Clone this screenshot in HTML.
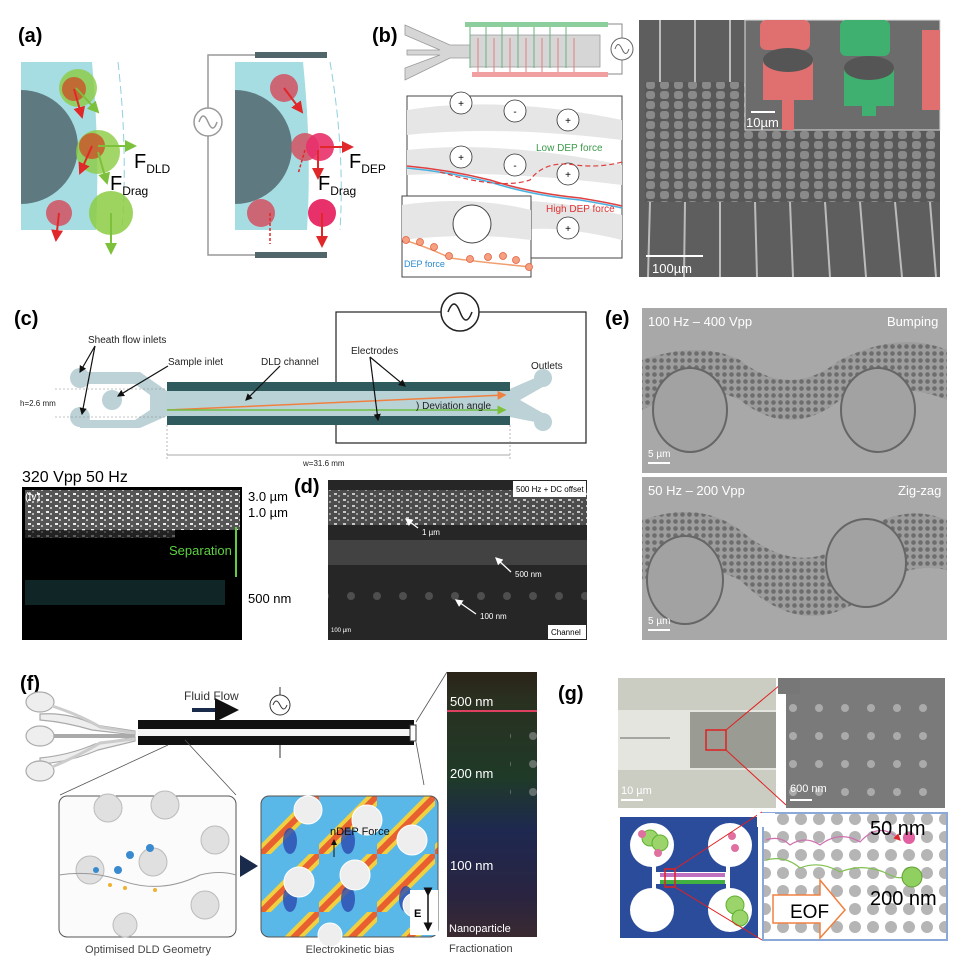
<!DOCTYPE html>
<html><head><meta charset="utf-8"><style>
html,body{margin:0;padding:0;background:#fff}
svg{display:block}
text{font-family:"Liberation Sans",sans-serif}
</style></head><body>
<svg width="955" height="964" viewBox="0 0 955 964" xmlns="http://www.w3.org/2000/svg">
<defs>
<marker id="ar" markerWidth="6" markerHeight="6" refX="5" refY="3" orient="auto"><path d="M0,0L6,3L0,6z" fill="#e0282a"/></marker>
<marker id="ag" markerWidth="6" markerHeight="6" refX="5" refY="3" orient="auto"><path d="M0,0L6,3L0,6z" fill="#7cc03c"/></marker>
<marker id="ak" markerWidth="6" markerHeight="6" refX="5" refY="3" orient="auto"><path d="M0,0L6,3L0,6z" fill="#111"/></marker>
<marker id="aw" markerWidth="6" markerHeight="6" refX="5" refY="3" orient="auto"><path d="M0,0L6,3L0,6z" fill="#fff"/></marker>
<marker id="ao" markerWidth="6" markerHeight="6" refX="5" refY="3" orient="auto"><path d="M0,0L6,3L0,6z" fill="#f08040"/></marker>
<linearGradient id="strip" x1="0" y1="0" x2="0" y2="1">
<stop offset="0" stop-color="#2a2218"/><stop offset=".1" stop-color="#2a3020"/><stop offset=".4" stop-color="#1f3a28"/><stop offset=".6" stop-color="#1e2850"/><stop offset=".85" stop-color="#2a2440"/><stop offset="1" stop-color="#3a2a30"/></linearGradient>
<pattern id="heatp" width="58" height="58" patternUnits="userSpaceOnUse" x="261" y="796">
<rect width="58" height="58" fill="#5ab8e8"/>
<path d="M0,58 L58,0" stroke="#f0d040" stroke-width="14"/>
<path d="M0,58 L58,0" stroke="#e86030" stroke-width="6"/>
<ellipse cx="29" cy="45" rx="7" ry="13" fill="#2a48b0" opacity=".8"/>
</pattern>
<pattern id="pill" width="14" height="10" patternUnits="userSpaceOnUse"><rect width="14" height="10" fill="#585858"/><rect x="2" y="1" width="9" height="8" rx="3" fill="#8a8a8a"/></pattern>
<pattern id="dots" width="18" height="18" patternUnits="userSpaceOnUse"><circle cx="9" cy="9" r="6" fill="#b5b5b5"/></pattern>
<pattern id="gdots" width="26" height="28" patternUnits="userSpaceOnUse"><circle cx="13" cy="8" r="4" fill="#aaa"/></pattern>
<pattern id="cells" width="7" height="7" patternUnits="userSpaceOnUse"><rect width="7" height="7" fill="#9a9a9a"/><circle cx="3.5" cy="3.5" r="2.3" fill="#5e5e5e"/></pattern>
<pattern id="spk" width="9" height="6" patternUnits="userSpaceOnUse"><rect width="9" height="6" fill="#555"/><rect x="1" y="1" width="3" height="2" fill="#eee"/><rect x="5" y="3" width="2" height="2" fill="#bbb"/></pattern>
</defs>

<!-- (a) -->
<text x="18" y="42" font-size="20" font-weight="bold">(a)</text>
<path d="M21,62 H92 Q100,150 96,230 H21 Z" fill="#a6dde2"/>
<path d="M21,90 A57,57 0 0 1 21,204 Z" fill="#5e7a80"/>
<path d="M118,62 Q128,150 122,230" fill="none" stroke="#8fd0e0" stroke-dasharray="8,4"/>
<circle cx="78" cy="88" r="19" fill="#8ccc44" opacity=".8"/>
<circle cx="74" cy="89" r="12" fill="#c8582c" opacity=".85"/>
<circle cx="98" cy="152" r="22" fill="#8ccc44" opacity=".8"/>
<circle cx="92" cy="146" r="13" fill="#c8582c" opacity=".85"/>
<circle cx="111" cy="213" r="22" fill="#8ccc44" opacity=".85"/>
<circle cx="59" cy="213" r="13" fill="#d05868" opacity=".9"/>
<g stroke="#e0282a" stroke-width="2" marker-end="url(#ar)"><line x1="74" y1="89" x2="82" y2="117"/><line x1="92" y1="146" x2="80" y2="173"/><line x1="59" y1="213" x2="56" y2="240"/></g>
<g stroke="#7cc03c" stroke-width="2" marker-end="url(#ag)"><line x1="76" y1="88" x2="98" y2="112"/><line x1="98" y1="146" x2="135" y2="146"/><line x1="98" y1="152" x2="107" y2="183"/><line x1="111" y1="213" x2="111" y2="253"/></g>
<text x="134" y="168" font-size="20">F<tspan font-size="12" dy="5">DLD</tspan></text>
<text x="110" y="190" font-size="20">F<tspan font-size="12" dy="5">Drag</tspan></text>

<path d="M255,55 H208 V255 H255" fill="none" stroke="#999" stroke-width="1.5"/>
<circle cx="208" cy="122" r="14" fill="#fff" stroke="#999" stroke-width="1.5"/>
<path d="M199,122 Q203,110 208,122 T217,122" fill="none" stroke="#999" stroke-width="1.5"/>
<rect x="255" y="52" width="72" height="6" fill="#51666b"/>
<rect x="255" y="252" width="72" height="6" fill="#51666b"/>
<path d="M235,62 H303 Q312,150 307,230 H235 Z" fill="#a6dde2"/>
<path d="M235,90 A57,57 0 0 1 235,204 Z" fill="#5e7a80"/>
<path d="M330,62 Q345,150 340,230" fill="none" stroke="#8fd0e0" stroke-dasharray="8,4"/>
<circle cx="284" cy="88" r="14" fill="#d05868" opacity=".9"/>
<circle cx="305" cy="147" r="14" fill="#d05868" opacity=".9"/>
<circle cx="320" cy="147" r="14" fill="#e8306a" opacity=".9"/>
<circle cx="261" cy="213" r="14" fill="#d05868" opacity=".9"/>
<circle cx="322" cy="213" r="14" fill="#e8306a"/>
<g stroke="#e0282a" stroke-width="2" marker-end="url(#ar)"><line x1="284" y1="88" x2="302" y2="112"/><line x1="320" y1="147" x2="352" y2="147"/><line x1="318" y1="150" x2="318" y2="178"/><line x1="322" y1="213" x2="322" y2="246"/></g>
<g stroke="#e0282a" stroke-width="1.5" stroke-dasharray="3,2"><line x1="305" y1="150" x2="298" y2="174"/><line x1="270" y1="213" x2="270" y2="244"/></g>
<text x="349" y="168" font-size="20">F<tspan font-size="12" dy="5">DEP</tspan></text>
<text x="318" y="190" font-size="20">F<tspan font-size="12" dy="5">Drag</tspan></text>

<!-- (b) -->
<text x="372" y="42" font-size="20" font-weight="bold">(b)</text>
<path d="M405,25 L450,45 H470 V35 H600 V67 H470 V58 H450 L405,80 V68 L440,55 H407 V50 H440 L405,35 Z" fill="#d6d6d6" stroke="#999" stroke-width=".8"/>
<rect x="465" y="22" width="143" height="5" fill="#8ccf9c"/>
<rect x="472" y="72" width="136" height="5" fill="#f0a0a0"/>
<g stroke="#6ab37c" stroke-width="1"><line x1="470" y1="27" x2="470" y2="68"/><line x1="486" y1="27" x2="486" y2="68"/><line x1="502" y1="27" x2="502" y2="68"/><line x1="518" y1="27" x2="518" y2="68"/><line x1="534" y1="27" x2="534" y2="68"/><line x1="550" y1="27" x2="550" y2="68"/><line x1="566" y1="27" x2="566" y2="68"/></g>
<g stroke="#e08080" stroke-width="1"><line x1="478" y1="38" x2="478" y2="72"/><line x1="494" y1="38" x2="494" y2="72"/><line x1="510" y1="38" x2="510" y2="72"/><line x1="526" y1="38" x2="526" y2="72"/><line x1="542" y1="38" x2="542" y2="72"/><line x1="558" y1="38" x2="558" y2="72"/><line x1="574" y1="38" x2="574" y2="72"/></g>
<path d="M608,24 H622 V74 H608" fill="none" stroke="#888"/>
<circle cx="622" cy="49" r="11" fill="#fff" stroke="#666"/>
<path d="M615,49 Q618,40 622,49 T629,49" fill="none" stroke="#666"/>
<rect x="407" y="96" width="215" height="162" fill="#fff" stroke="#444"/>
<g fill="#e6e6e6"><path d="M407,110 Q500,95 622,120 V140 Q500,125 407,135Z"/><path d="M407,150 Q500,140 622,165 V185 Q500,170 407,175Z"/><path d="M500,200 Q560,200 622,215 V240 Q560,225 520,230Z"/></g>
<g fill="#fff" stroke="#333" stroke-width=".8"><circle cx="461" cy="103" r="11"/><circle cx="515" cy="111" r="11"/><circle cx="568" cy="120" r="11"/><circle cx="461" cy="157" r="11"/><circle cx="515" cy="165" r="11"/><circle cx="568" cy="174" r="11"/><circle cx="568" cy="228" r="11"/></g>
<g font-size="10" text-anchor="middle"><text x="461" y="107">+</text><text x="515" y="115">-</text><text x="568" y="124">+</text><text x="461" y="161">+</text><text x="515" y="169">-</text><text x="568" y="178">+</text><text x="568" y="232">+</text></g>
<text x="536" y="151" font-size="10" fill="#3a9a4a">Low DEP force</text>
<text x="546" y="212" font-size="10" fill="#e03030">High DEP force</text>
<path d="M407,168 Q450,172 490,182 Q530,195 580,200 Q610,205 622,208" fill="none" stroke="#4ab0e0" stroke-width="1.5"/>
<path d="M407,166 Q450,170 490,180 Q530,193 580,198 Q610,203 622,206" fill="none" stroke="#e04040" stroke-width="1.5"/>
<path d="M440,172 Q500,190 530,180 Q545,160 575,165 Q600,168 622,162" fill="none" stroke="#e04040" stroke-width="1.2" stroke-dasharray="5,3"/>
<rect x="402" y="196" width="129" height="81" fill="#fff" stroke="#444"/>
<path d="M402,205 Q470,195 531,210 V240 Q470,232 402,240Z" fill="#e6e6e6"/>
<circle cx="472" cy="224" r="19" fill="#fff" stroke="#444"/>
<path d="M404,240 Q430,248 450,258 Q480,262 531,267" fill="none" stroke="#f0a070" stroke-width="1.5"/>
<g fill="#f5a080" stroke="#e06040" stroke-width=".8"><circle cx="406" cy="240" r="3.5"/><circle cx="420" cy="242" r="3.5"/><circle cx="434" cy="247" r="3.5"/><circle cx="449" cy="256" r="3.5"/><circle cx="470" cy="259" r="3.5"/><circle cx="488" cy="257" r="3.5"/><circle cx="503" cy="256" r="3.5"/><circle cx="516" cy="260" r="3.5"/><circle cx="529" cy="267" r="3.5"/></g>
<text x="404" y="267" font-size="9" fill="#2a8ad0">DEP force</text>

<rect x="639" y="20" width="301" height="257" fill="#5e5e5e"/>
<rect x="645" y="82" width="295" height="120" fill="url(#pill)"/>
<g stroke="#bbb" stroke-width="2"><line x1="660" y1="20" x2="660" y2="82"/><line x1="695" y1="20" x2="695" y2="82"/><line x1="730" y1="20" x2="730" y2="82"/><line x1="650" y1="202" x2="648" y2="277"/><line x1="685" y1="202" x2="684" y2="277"/><line x1="720" y1="202" x2="720" y2="277"/><line x1="755" y1="202" x2="757" y2="277"/><line x1="790" y1="202" x2="793" y2="277"/><line x1="825" y1="202" x2="830" y2="277"/><line x1="860" y1="202" x2="866" y2="277"/><line x1="895" y1="202" x2="902" y2="277"/><line x1="930" y1="202" x2="936" y2="277"/></g>
<rect x="745" y="20" width="195" height="110" fill="#6c6c6c" stroke="#ddd"/>
<rect x="760" y="20" width="50" height="30" rx="6" fill="#e07070"/><rect x="840" y="20" width="50" height="36" rx="6" fill="#40b070"/>
<rect x="763" y="60" width="50" height="40" fill="#e07070"/><ellipse cx="788" cy="60" rx="25" ry="12" fill="#555"/><rect x="782" y="100" width="12" height="30" fill="#e07070"/>
<rect x="844" y="68" width="50" height="38" fill="#40b070"/><ellipse cx="869" cy="68" rx="25" ry="12" fill="#555"/><rect x="862" y="106" width="14" height="10" fill="#40b070"/>
<rect x="922" y="30" width="18" height="80" fill="#e07070"/>
<line x1="751" y1="112" x2="775" y2="112" stroke="#fff" stroke-width="2"/>
<text x="746" y="127" font-size="13" fill="#fff">10µm</text>
<line x1="646" y1="256" x2="703" y2="256" stroke="#fff" stroke-width="2"/>
<text x="652" y="273" font-size="13" fill="#fff">100µm</text>

<!-- (c) -->
<text x="14" y="325" font-size="20" font-weight="bold">(c)</text>
<rect x="336" y="312" width="250" height="131" fill="none" stroke="#222" stroke-width="1.2"/>
<circle cx="460" cy="312" r="19" fill="#fff" stroke="#222" stroke-width="1.5"/>
<path d="M448,312 Q454,296 460,312 T472,312" fill="none" stroke="#222" stroke-width="1.5"/>
<g fill="#bcd2d6"><circle cx="80" cy="378" r="10"/><circle cx="80" cy="417" r="10"/><circle cx="112" cy="400" r="10"/><path d="M80,372 H140 L167,391 V416 L140,428 H80 V420 H135 L150,410 V395 L135,384 H80Z"/><circle cx="543" cy="378" r="9"/><circle cx="543" cy="422" r="9"/><path d="M505,391 L535,378 L548,384 L520,400 L548,416 L535,422 L505,416Z"/></g>
<rect x="167" y="391" width="343" height="25" fill="#b9d2d6"/>
<rect x="167" y="382" width="343" height="9" fill="#2f5a5e"/>
<rect x="167" y="416" width="343" height="9" fill="#2f5a5e"/>
<line x1="167" y1="410" x2="505" y2="395" stroke="#f08040" stroke-width="1.5" marker-end="url(#ao)"/>
<line x1="167" y1="410" x2="505" y2="410" stroke="#6cc040" stroke-width="1.5" marker-end="url(#ag)"/>
<g stroke="#111" stroke-width="1.2" marker-end="url(#ak)"><line x1="95" y1="346" x2="80" y2="372"/><line x1="95" y1="346" x2="82" y2="414"/><line x1="168" y1="366" x2="118" y2="396"/><line x1="280" y1="366" x2="246" y2="400"/><line x1="370" y1="357" x2="405" y2="386"/><line x1="370" y1="357" x2="378" y2="420"/></g>
<g font-size="10" fill="#222"><text x="88" y="343">Sheath flow inlets</text><text x="168" y="365">Sample inlet</text><text x="261" y="365">DLD channel</text><text x="351" y="354">Electrodes</text><text x="531" y="369">Outlets</text><text x="416" y="409">) Deviation angle</text><text x="20" y="406" font-size="8">h=2.6 mm</text><text x="303" y="466" font-size="8">w=31.6 mm</text></g>
<g stroke="#888" stroke-width=".6" stroke-dasharray="2,2"><line x1="55" y1="389" x2="167" y2="389"/><line x1="55" y1="417" x2="167" y2="417"/><line x1="167" y1="425" x2="167" y2="460"/><line x1="510" y1="425" x2="510" y2="460"/></g>
<line x1="167" y1="455" x2="510" y2="455" stroke="#aaa"/>
<text x="22" y="482" font-size="16">320 Vpp 50 Hz</text>
<rect x="22" y="487" width="220" height="153" fill="#000"/>
<rect x="25" y="490" width="215" height="40" fill="url(#spk)"/>
<rect x="25" y="530" width="150" height="8" fill="url(#spk)" opacity=".4"/>
<rect x="25" y="580" width="200" height="25" fill="#1a4040" opacity=".6"/>
<text x="25" y="500" font-size="11" fill="#fff">(iv)</text>
<text x="248" y="501" font-size="13">3.0 µm</text>
<text x="248" y="517" font-size="13">1.0 µm</text>
<text x="248" y="603" font-size="13">500 nm</text>
<text x="169" y="555" font-size="13" fill="#5cd040">Separation</text>
<line x1="236" y1="527" x2="236" y2="577" stroke="#5cd040" stroke-width="2"/>

<!-- (d) -->
<text x="294" y="493" font-size="20" font-weight="bold">(d)</text>
<rect x="328" y="480" width="259" height="160" fill="#262626"/>
<rect x="328" y="490" width="259" height="35" fill="url(#spk)" opacity=".8"/>
<rect x="328" y="540" width="259" height="25" fill="#555" opacity=".6"/>
<rect x="328" y="585" width="259" height="30" fill="url(#gdots)" opacity=".3"/>
<rect x="513" y="481" width="73" height="16" fill="#fff"/>
<text x="516" y="492" font-size="8">500 Hz + DC offset</text>
<rect x="548" y="625" width="38" height="14" fill="#fff"/>
<text x="551" y="635" font-size="8">Channel</text>
<g stroke="#fff" stroke-width="1.3" marker-end="url(#aw)"><line x1="418" y1="528" x2="406" y2="519"/><line x1="511" y1="572" x2="496" y2="558"/><line x1="476" y1="614" x2="456" y2="600"/></g>
<g font-size="8" fill="#fff"><text x="422" y="535">1 µm</text><text x="515" y="577">500 nm</text><text x="480" y="619">100 nm</text><text x="331" y="632" font-size="6">100 µm</text></g>

<!-- (e) -->
<text x="605" y="325" font-size="20" font-weight="bold">(e)</text>
<rect x="642" y="308" width="305" height="165" fill="#a8a8a8"/>
<path d="M642,360 Q700,340 740,360 Q790,400 840,360 Q900,330 947,350 V400 Q900,380 840,400 Q790,440 740,400 Q700,380 642,410Z" fill="url(#cells)" opacity=".8"/>
<ellipse cx="690" cy="410" rx="37" ry="42" fill="#a2a2a2" stroke="#666" stroke-width="2"/>
<ellipse cx="878" cy="410" rx="37" ry="42" fill="#a2a2a2" stroke="#666" stroke-width="2"/>
<text x="648" y="326" font-size="13" fill="#fff">100 Hz – 400 Vpp</text>
<text x="887" y="326" font-size="13" fill="#fff">Bumping</text>
<text x="648" y="457" font-size="10" fill="#fff">5 µm</text>
<line x1="648" y1="463" x2="670" y2="463" stroke="#fff" stroke-width="2"/>
<rect x="642" y="477" width="305" height="163" fill="#a8a8a8"/>
<path d="M642,520 Q700,500 740,530 Q800,580 850,540 Q900,500 947,520 V570 Q900,560 860,600 Q800,640 740,580 Q700,560 642,580Z" fill="url(#cells)" opacity=".8"/>
<ellipse cx="685" cy="580" rx="38" ry="44" fill="#a2a2a2" stroke="#666" stroke-width="2"/>
<ellipse cx="866" cy="563" rx="40" ry="44" fill="#a2a2a2" stroke="#666" stroke-width="2"/>
<text x="648" y="495" font-size="13" fill="#fff">50 Hz – 200 Vpp</text>
<text x="898" y="495" font-size="13" fill="#fff">Zig-zag</text>
<text x="648" y="624" font-size="10" fill="#fff">5 µm</text>
<line x1="648" y1="630" x2="670" y2="630" stroke="#fff" stroke-width="2"/>

<!-- (f) -->
<text x="20" y="690" font-size="20" font-weight="bold">(f)</text>
<g fill="#eee" stroke="#aaa" stroke-width="1.2">
<path d="M40,714 Q70,712 95,725 L135,731 L135,735 L92,730 Q65,722 40,720Z"/>
<path d="M50,736 H135" stroke-width="4"/>
<path d="M40,758 Q70,755 95,744 L135,737 L135,741 L98,750 Q70,762 40,764Z"/>
<ellipse cx="40" cy="702" rx="14" ry="10"/><ellipse cx="40" cy="736" rx="14" ry="10"/><ellipse cx="40" cy="771" rx="14" ry="10"/>
<path d="M52,706 Q80,715 100,727 L135,733" fill="none" stroke="#ccc" stroke-width="3"/>
<path d="M52,767 Q80,755 100,743 L135,739" fill="none" stroke="#ccc" stroke-width="3"/>
</g>
<rect x="138" y="720" width="276" height="25" fill="#111"/>
<rect x="138" y="729" width="276" height="7" fill="#f4f4f4"/>
<rect x="410" y="725" width="6" height="16" fill="#fff" stroke="#333"/>
<text x="184" y="700" font-size="12" fill="#333">Fluid Flow</text>
<line x1="192" y1="710" x2="235" y2="710" stroke="#1a2a4a" stroke-width="4" marker-end="url(#ak)"/>
<circle cx="280" cy="705" r="10" fill="#fff" stroke="#333"/>
<path d="M273,705 Q276,697 280,705 T287,705" fill="none" stroke="#333"/>
<line x1="280" y1="687" x2="280" y2="695" stroke="#333"/><line x1="280" y1="745" x2="280" y2="758" stroke="#333"/>
<g stroke="#555" stroke-width=".8" fill="none"><path d="M168,745 L60,795 M185,740 L236,795"/><path d="M416,722 L447,672 M416,742 L424,785"/></g>
<rect x="447" y="672" width="90" height="265" fill="url(#strip)"/>
<line x1="447" y1="711" x2="537" y2="711" stroke="#e04060" stroke-width="2"/>
<rect x="510" y="720" width="27" height="90" fill="url(#gdots)" opacity=".5"/>
<g font-size="13" fill="#fff"><text x="450" y="706">500 nm</text><text x="450" y="778">200 nm</text><text x="450" y="870">100 nm</text><text x="449" y="932" font-size="11">Nanoparticle</text></g>
<text x="449" y="952" font-size="11" fill="#444">Fractionation</text>
<rect x="59" y="796" width="177" height="141" rx="8" fill="#fbfbfb" stroke="#555"/>
<g fill="#e0e0e0" stroke="#bbb"><circle cx="108" cy="808" r="14"/><circle cx="165" cy="805" r="14"/><circle cx="215" cy="840" r="14"/><circle cx="90" cy="870" r="14"/><circle cx="153" cy="862" r="14"/><circle cx="205" cy="905" r="14"/><circle cx="125" cy="925" r="12"/></g>
<path d="M59,875 Q90,870 120,880 Q160,895 200,875 Q220,870 236,875" fill="none" stroke="#999"/>
<g fill="#3a8ad0"><circle cx="130" cy="855" r="4"/><circle cx="150" cy="848" r="4"/><circle cx="118" cy="870" r="4"/><circle cx="96" cy="870" r="3"/></g>
<g fill="#f0b030"><circle cx="125" cy="888" r="2"/><circle cx="155" cy="890" r="2"/><circle cx="110" cy="885" r="2"/></g>
<path d="M240,855 L258,866 L240,877Z" fill="#1a2a4a"/>
<rect x="261" y="796" width="177" height="141" rx="8" fill="url(#heatp)" stroke="#555"/>
<g fill="#eee" stroke="#fff"><circle cx="308" cy="810" r="14"/><circle cx="367" cy="820" r="15"/><circle cx="412" cy="840" r="15"/><circle cx="299" cy="882" r="15"/><circle cx="355" cy="875" r="15"/><circle cx="415" cy="905" r="12"/><circle cx="330" cy="935" r="12"/></g>
<text x="330" y="835" font-size="11" fill="#111">nDEP Force</text>
<line x1="334" y1="857" x2="334" y2="840" stroke="#111" marker-end="url(#ak)"/>
<rect x="410" y="890" width="28" height="45" fill="#fff"/>
<line x1="428" y1="895" x2="428" y2="930" stroke="#111" stroke-width="1.5" marker-end="url(#ak)" marker-start="url(#ak)"/>
<text x="414" y="917" font-size="11" font-weight="bold">E</text>
<text x="148" y="953" font-size="11" fill="#444" text-anchor="middle">Optimised DLD Geometry</text>
<text x="350" y="953" font-size="11" fill="#444" text-anchor="middle">Electrokinetic bias</text>

<!-- (g) -->
<text x="558" y="700" font-size="20" font-weight="bold">(g)</text>
<rect x="618" y="678" width="158" height="130" fill="#cbcdc2"/>
<rect x="618" y="710" width="158" height="60" fill="#e4e5df"/>
<rect x="690" y="712" width="86" height="56" fill="#9a9c94"/>
<line x1="620" y1="738" x2="670" y2="738" stroke="#666"/>
<rect x="706" y="730" width="20" height="20" fill="none" stroke="#e02020" stroke-width="1.5"/>
<g stroke="#e02020" stroke-width="1"><line x1="726" y1="730" x2="786" y2="680"/><line x1="726" y1="750" x2="786" y2="805"/></g>
<text x="621" y="794" font-size="11" fill="#fff">10 µm</text>
<line x1="621" y1="800" x2="643" y2="800" stroke="#fff" stroke-width="2"/>
<rect x="786" y="678" width="159" height="130" fill="#7a7a7a"/>
<rect x="786" y="685" width="159" height="123" fill="url(#gdots)"/>
<rect x="778" y="678" width="22" height="16" fill="#777"/>
<text x="790" y="792" font-size="11" fill="#fff">600 nm</text>
<line x1="790" y1="800" x2="812" y2="800" stroke="#fff" stroke-width="2"/>
<rect x="620" y="817" width="138" height="121" fill="#2b4c9a"/>
<g fill="#fff"><circle cx="652" cy="845" r="22"/><circle cx="730" cy="845" r="22"/><circle cx="652" cy="910" r="22"/><circle cx="730" cy="910" r="22"/><rect x="652" y="865" width="4" height="30"/><rect x="726" y="865" width="4" height="30"/><rect x="656" y="872" width="70" height="12"/></g>
<rect x="660" y="873" width="65" height="4" fill="#c070c0"/><rect x="660" y="880" width="65" height="4" fill="#40b040"/>
<g fill="#9ad46a" stroke="#60b030"><circle cx="650" cy="838" r="8"/><circle cx="660" cy="843" r="8"/><circle cx="735" cy="905" r="9"/><circle cx="740" cy="918" r="8"/></g>
<g fill="#e070a0"><circle cx="642" cy="834" r="4"/><circle cx="658" cy="853" r="4"/><circle cx="732" cy="836" r="4"/><circle cx="735" cy="848" r="4"/></g>
<rect x="665" y="869" width="10" height="18" fill="none" stroke="#e02020" stroke-width="1.5"/>
<g stroke="#e02020"><line x1="675" y1="869" x2="762" y2="812"/><line x1="675" y1="887" x2="762" y2="940"/></g>
<rect x="763" y="813" width="184" height="127" fill="#fff" stroke="#8aa8d8" stroke-width="2"/>
<rect x="764" y="814" width="182" height="125" fill="url(#dots)"/>
<path d="M766,840 Q780,835 790,845 Q805,835 820,845 Q840,830 860,842 Q880,820 900,840" fill="none" stroke="#d070b0" stroke-width="1.2" marker-end="url(#ar)"/>
<circle cx="909" cy="838" r="6" fill="#e060a0"/>
<path d="M766,860 Q785,855 800,868 Q820,860 840,872 Q865,862 890,875 Q900,880 905,876" fill="none" stroke="#80c050" stroke-width="1.2"/>
<circle cx="912" cy="877" r="10" fill="#90d060" stroke="#60a030"/>
<text x="870" y="835" font-size="20">50 nm</text>
<text x="870" y="905" font-size="20">200 nm</text>
<path d="M773,895 H820 V880 L845,910 L820,938 V923 H773Z" fill="#fff" stroke="#f08040" stroke-width="1.5"/>
<text x="790" y="918" font-size="19">EOF</text>
<rect x="757" y="813" width="18" height="14" fill="#fff"/>
</svg>
</body></html>
